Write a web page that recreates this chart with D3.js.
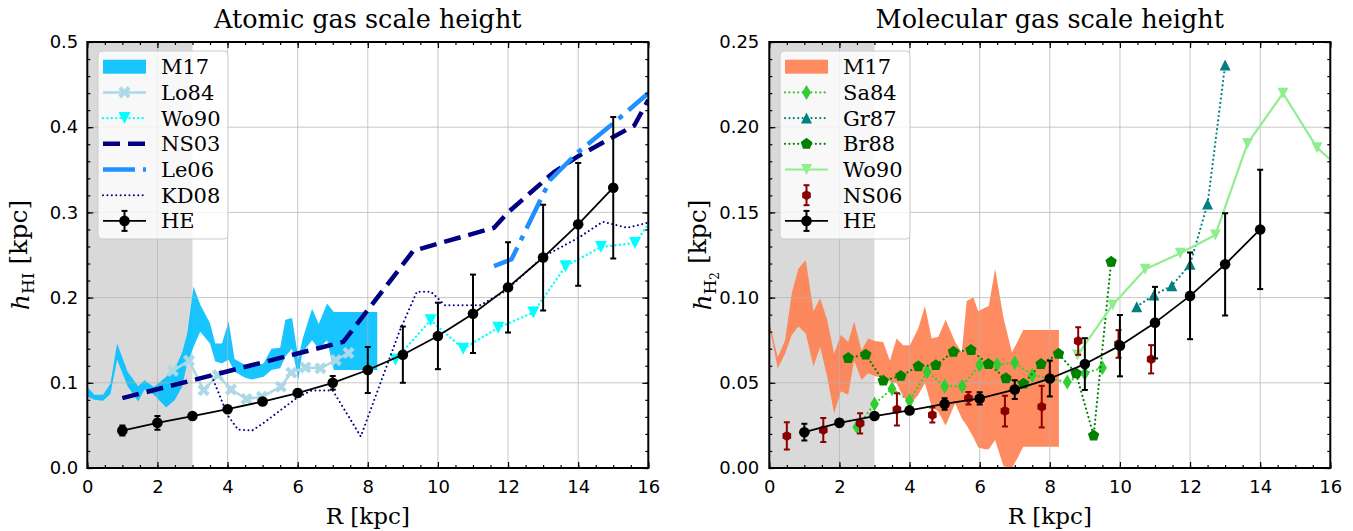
<!DOCTYPE html>
<html lang="en">
<head>
<meta charset="UTF-8">
<title>gas scale height</title>
<script src="https://cdn.jsdelivr.net/npm/d3@7"></script>
<style>
  body { margin: 0; background: #fff; }
  svg text { font-family: "DejaVu Serif", serif; fill: #000; }
  .tick text { font-family: "DejaVu Sans", sans-serif; font-size: 18px; }
</style>
</head>
<body>
<svg id="chart" width="1353" height="531"></svg>
<script>
// ---------- atomic gas (left) ----------
var rHE_HI = [1, 2, 3, 4, 5, 6, 7, 8, 9, 10, 11, 12, 13, 14, 15];
var hHE_HI = [0.044, 0.053, 0.061, 0.069, 0.078, 0.088, 0.100, 0.115, 0.133, 0.155, 0.181, 0.212, 0.247, 0.286, 0.329];
var eHE_HI = [0.006, 0.008, 0.003, 0.003, 0.003, 0.004, 0.008, 0.027, 0.033, 0.039, 0.046, 0.053, 0.062, 0.072, 0.083];

var rLo84 = [2.44, 2.9, 3.32, 3.72, 4.1, 4.54, 4.98, 5.52, 5.82, 6.22, 6.65, 7.09, 7.45];
var hLo84 = [0.114, 0.126, 0.0914, 0.109, 0.0922, 0.081, 0.0836, 0.0954, 0.112, 0.118, 0.117, 0.1266, 0.135];

var rWo90_HI = [8.79, 9.79, 10.72, 11.72, 12.72, 13.64, 14.65, 15.62, 16.6];
var hWo90_HI = [0.127, 0.1735, 0.140, 0.1645, 0.1825, 0.2368, 0.2594, 0.264, 0.32];

var rNS03 = [1.0, 7.3, 9.3, 11.6, 12.0, 13.3, 14.0, 15.6, 16.0];
var hNS03 = [0.082, 0.148, 0.255, 0.282, 0.300, 0.347, 0.366, 0.402, 0.432];

var rLe06 = [11.6, 12.1, 13.2, 14.0, 14.9, 16.0];
var hLe06 = [0.237, 0.245, 0.338, 0.371, 0.401, 0.44];

var rKD08 = [3.55, 4.0, 4.3, 4.7, 5.0, 6.0, 6.4, 7.0, 7.8, 8.9, 9.4, 9.8, 10.2, 11.2, 11.9, 13.0, 14.0, 14.7, 15.4, 16.0];
var hKD08 = [0.108, 0.062, 0.045, 0.044, 0.052, 0.083, 0.091, 0.091, 0.037, 0.160, 0.207, 0.207, 0.191, 0.191, 0.207, 0.248, 0.270, 0.289, 0.282, 0.288];

var rM17_HI  = [0, 0.2, 0.45, 0.66, 0.85, 1.15, 1.45, 1.63, 1.9, 2.25, 2.5, 2.7, 2.85, 3.03, 3.22, 3.5, 3.65, 3.84, 4.03, 4.2, 4.5, 4.7, 5.03, 5.25, 5.5, 5.65, 5.84, 6.02, 6.13, 6.41, 6.6, 6.84, 7.03, 8.27];
var hiM17_HI = [0.095, 0.086, 0.086, 0.099, 0.146, 0.113, 0.096, 0.103, 0.095, 0.107, 0.117, 0.135, 0.158, 0.213, 0.192, 0.170, 0.146, 0.146, 0.172, 0.128, 0.121, 0.118, 0.123, 0.140, 0.141, 0.174, 0.176, 0.128, 0.150, 0.187, 0.169, 0.193, 0.183, 0.183];
var loM17_HI = [0.084, 0.080, 0.079, 0.087, 0.127, 0.096, 0.078, 0.092, 0.086, 0.071, 0.080, 0.095, 0.123, 0.142, 0.160, 0.146, 0.125, 0.123, 0.127, 0.113, 0.106, 0.104, 0.107, 0.115, 0.117, 0.131, 0.140, 0.104, 0.135, 0.150, 0.140, 0.150, 0.115, 0.115];

// ---------- molecular gas (right) ----------
var rHE_H2 = [1, 2, 3, 4, 5, 6, 7, 8, 9, 10, 11, 12, 13, 14];
var hHE_H2 = [0.021, 0.0265, 0.0305, 0.0338, 0.0376, 0.0408, 0.046, 0.0525, 0.061, 0.0718, 0.0853, 0.101, 0.1195, 0.140];
var eHE_H2 = [0.0049, 0.002, 0.0015, 0.0015, 0.0034, 0.0036, 0.0055, 0.0105, 0.0152, 0.018, 0.021, 0.0254, 0.030, 0.035];

var rSa84 = [2.5, 3, 3.5, 4, 4.5, 5, 5.5, 6, 6.5, 7, 7.5, 8.5, 9, 9.5];
var hSa84 = [0.024, 0.0376, 0.0465, 0.0395, 0.0565, 0.048, 0.048, 0.0604, 0.0607, 0.0618, 0.0545, 0.0505, 0.0556, 0.0588];

var rGr87 = [10.48, 10.97, 11.48, 12.0, 12.5, 13.0];
var hGr87 = [0.0947, 0.1015, 0.107, 0.1195, 0.155, 0.2365];

var rBr88 = [2.25, 2.75, 3.25, 3.75, 4.25, 4.75, 5.25, 5.75, 6.25, 6.75, 7.25, 7.75, 8.25, 8.75, 9.25, 9.75];
var hBr88 = [0.0645, 0.0665, 0.0512, 0.054, 0.0597, 0.0603, 0.0682, 0.0692, 0.061, 0.0526, 0.0495, 0.061, 0.067, 0.0555, 0.019, 0.121];

var rWo90_H2 = [8.79, 9.79, 10.72, 11.72, 12.72, 13.64, 14.65, 15.62, 16.6];
var hWo90_H2 = [0.0663, 0.0957, 0.1166, 0.126, 0.1367, 0.1905, 0.2199, 0.188, 0.170];

var rNS06 = [0.5, 1.54, 2.59, 3.64, 4.65, 5.68, 6.72, 7.77, 8.81, 9.96, 10.89];
var hNS06 = [0.0188, 0.0223, 0.0262, 0.0344, 0.0311, 0.0409, 0.0334, 0.036, 0.0745, 0.0728, 0.0638];
var eNS06 = [0.008, 0.0071, 0.0059, 0.0095, 0.0044, 0.0037, 0.009, 0.0122, 0.0081, 0.0081, 0.0083];

var rM17_H2  = [0, 0.24, 0.45, 0.64, 0.83, 1.04, 1.26, 1.45, 1.65, 1.85, 2.04, 2.25, 2.42, 2.63, 2.82, 3.01, 3.25, 3.44, 3.63, 3.82, 4.01, 4.25, 4.44, 4.63, 4.82, 5.03, 5.30, 5.49, 5.63, 5.82, 5.96, 6.15, 6.26, 6.44, 6.68, 6.92, 7.10, 7.24, 8.26];
var hiM17_H2 = [0.086, 0.065, 0.075, 0.1025, 0.117, 0.122, 0.092, 0.0996, 0.087, 0.067, 0.078, 0.074, 0.086, 0.069, 0.076, 0.0745, 0.074, 0.063, 0.076, 0.072, 0.072, 0.082, 0.095, 0.076, 0.077, 0.087, 0.074, 0.068, 0.098, 0.100, 0.092, 0.094, 0.095, 0.117, 0.088, 0.068, 0.075, 0.081, 0.081];
var loM17_H2 = [0.083, 0.0585, 0.067, 0.078, 0.083, 0.079, 0.0595, 0.071, 0.0536, 0.032, 0.045, 0.043, 0.063, 0.0516, 0.0556, 0.054, 0.0526, 0.0507, 0.0497, 0.042, 0.037, 0.043, 0.0497, 0.036, 0.033, 0.025, 0.038, 0.029, 0.025, 0.018, 0.012, 0.011, 0.011, 0.0164, 0.001, 0.0, 0.0066, 0.0125, 0.0125];

var svg = d3.select("#chart");
var DOT = "0.01,4.4";

// marker shapes, centred on 0,0
function markerPath(t, s) {
  var i, pts = [];
  if (t == "o") return d3.symbol(d3.symbolCircle, Math.PI * s * s)();
  if (t == "^") return "M0," + (-s) + "L" + s + "," + s + "L" + (-s) + "," + s + "Z";
  if (t == "v") return "M0," + s + "L" + s + "," + (-s) + "L" + (-s) + "," + (-s) + "Z";
  if (t == "d") return "M0," + (-s) + "L" + (s * 0.6) + ",0L0," + s + "L" + (-s * 0.6) + ",0Z";
  if (t == "p" || t == "h") {
    var n = t == "p" ? 5 : 6;
    for (i = 0; i < n; i++) {
      var a = -Math.PI / 2 + i * 2 * Math.PI / n;
      pts.push([s * Math.cos(a), s * Math.sin(a)]);
    }
    return "M" + pts.join("L") + "Z";
  }
  if (t == "X") {
    var a2 = s * 0.32;
    var plus = [[a2, s], [a2, a2], [s, a2], [s, -a2], [a2, -a2], [a2, -s], [-a2, -s], [-a2, -a2], [-s, -a2], [-s, a2], [-a2, a2], [-a2, s]];
    var c = Math.SQRT1_2;
    pts = plus.map(function(p) { return [(p[0] - p[1]) * c, (p[0] + p[1]) * c]; });
    return "M" + pts.join("L") + "Z";
  }
}

function errBar(g, cx, y1, y2, color, lw, cap) {
  g.append("line").attr("x1", cx).attr("x2", cx).attr("y1", y1).attr("y2", y2)
    .attr("stroke", color).attr("stroke-width", lw);
  [y1, y2].forEach(function(yy) {
    g.append("line").attr("x1", cx - cap).attr("x2", cx + cap).attr("y1", yy).attr("y2", yy)
      .attr("stroke", color).attr("stroke-width", lw);
  });
}

function styleLine(sel, s) {
  sel.attr("stroke", s.color).attr("stroke-width", s.lw)
    .attr("stroke-dasharray", s.dash || null)
    .attr("stroke-linecap", s.dash == DOT ? "round" : "butt");
}

function drawPanel(p) {
  var g = svg.append("g").attr("transform", "translate(" + p.x0 + "," + p.y0 + ")");
  var x = d3.scaleLinear().domain([0, 16]).range([0, p.w]);
  var y = d3.scaleLinear().domain([0, p.ymax]).range([p.h, 0]);

  g.append("clipPath").attr("id", "clip" + p.id)
    .append("rect").attr("width", p.w).attr("height", p.h);
  var plot = g.append("g").attr("clip-path", "url(#clip" + p.id + ")");

  // inner region
  plot.append("rect").attr("x", x(0)).attr("width", x(3) - x(0)).attr("height", p.h)
    .attr("fill", "#808080").attr("fill-opacity", 0.3);

  // M17 band
  var area = d3.area().x(function(d) { return x(d[0]); })
    .y0(function(d) { return y(d[1]); }).y1(function(d) { return y(d[2]); });
  plot.append("path").datum(d3.zip(p.band.r, p.band.lo, p.band.hi))
    .attr("d", area).attr("fill", p.band.color).attr("fill-opacity", 0.9);

  // grid
  var xt = d3.range(0, 17, 2), yt = p.yticks;
  plot.selectAll(".gx").data(xt).join("line")
    .attr("x1", x).attr("x2", x).attr("y1", 0).attr("y2", p.h)
    .attr("stroke", "#b0b0b0").attr("stroke-opacity", 0.7).attr("stroke-width", 1);
  plot.selectAll(".gy").data(yt).join("line")
    .attr("y1", y).attr("y2", y).attr("x1", 0).attr("x2", p.w)
    .attr("stroke", "#b0b0b0").attr("stroke-opacity", 0.7).attr("stroke-width", 1);

  var line = d3.line().x(function(d) { return x(d[0]); }).y(function(d) { return y(d[1]); });

  p.series.forEach(function(s) {
    var pts = d3.zip(s.r, s.h);
    if (s.lw) {
      styleLine(plot.append("path").datum(pts).attr("d", line).attr("fill", "none")
        .attr("stroke-linejoin", "round"), s);
    }
    if (s.err) {
      pts.forEach(function(d, i) {
        errBar(plot, x(d[0]), y(d[1] - s.err[i]), y(d[1] + s.err[i]), s.color, s.elw, s.cap);
      });
    }
    if (s.marker) {
      plot.selectAll(null).data(pts).join("path")
        .attr("d", markerPath(s.marker, s.ms))
        .attr("transform", function(d) { return "translate(" + x(d[0]) + "," + y(d[1]) + ")"; })
        .attr("fill", s.color);
    }
  });

  // axes, ticks pointing inwards on all sides
  var minorX = d3.range(0, 16.01, 0.5), minorY = p.minor;
  function tickAxis(axis, tr, vals, size, fmt) {
    var a = g.append("g").attr("transform", tr)
      .call(axis.tickValues(vals).tickSizeInner(-size).tickSizeOuter(0).tickPadding(fmt ? p.pad : 0)
        .tickFormat(fmt || ""));
    a.select(".domain").remove();
    a.selectAll(".tick line").attr("stroke", "#000").attr("stroke-width", 1.2);
    return a;
  }
  tickAxis(d3.axisBottom(x), "translate(0," + p.h + ")", xt, 6, d3.format("d")).selectAll("text").attr("dy", "0.71em").attr("y", 12);
  tickAxis(d3.axisBottom(x), "translate(0," + p.h + ")", minorX, 3);
  tickAxis(d3.axisTop(x), "translate(0,0)", xt, 6);
  tickAxis(d3.axisTop(x), "translate(0,0)", minorX, 3);
  tickAxis(d3.axisLeft(y), "translate(0,0)", yt, 6, p.yfmt);
  tickAxis(d3.axisLeft(y), "translate(0,0)", minorY, 3);
  tickAxis(d3.axisRight(y), "translate(" + p.w + ",0)", yt, 6);
  tickAxis(d3.axisRight(y), "translate(" + p.w + ",0)", minorY, 3);

  g.append("rect").attr("width", p.w).attr("height", p.h)
    .attr("fill", "none").attr("stroke", "#000").attr("stroke-width", 2);

  // title and labels
  g.append("text").attr("x", p.w / 2).attr("y", -14).attr("text-anchor", "middle")
    .style("font-size", "25.5px").text(p.title);
  g.append("text").attr("x", p.w / 2).attr("y", p.h + 56).attr("text-anchor", "middle")
    .style("font-size", "23px").text("R [kpc]");
  var yl = g.append("text").attr("text-anchor", "middle").style("font-size", "25px")
    .attr("transform", "translate(" + (-58) + "," + (p.h / 2) + ") rotate(-90)");
  yl.append("tspan").style("font-style", "italic").text("h");
  p.ysub(yl);

  // legend
  var lg = g.append("g").attr("transform", "translate(10.7,9)");
  lg.append("rect").attr("width", 130).attr("height", 188).attr("rx", 4)
    .attr("fill", "#fff").attr("fill-opacity", 0.8).attr("stroke", "#cccccc");
  p.legend.forEach(function(e, i) {
    var cy = 15.7 + i * 25.7, hx = 5, hw = 43, row = lg.append("g");
    if (e.type == "patch") {
      row.append("rect").attr("x", hx).attr("y", cy - 7).attr("width", hw).attr("height", 14)
        .attr("fill", e.s.color).attr("fill-opacity", 0.9);
    } else {
      var s = e.s;
      if (s.lw) {
        styleLine(row.append("line").attr("x1", hx).attr("x2", hx + hw).attr("y1", cy).attr("y2", cy), s);
      }
      if (s.err) errBar(row, hx + hw / 2, cy - 10, cy + 10, s.color, s.elw, s.cap);
      if (s.marker) {
        row.append("path").attr("d", markerPath(s.marker, s.ms))
          .attr("transform", "translate(" + (hx + hw / 2) + "," + cy + ")").attr("fill", s.color);
      }
    }
    row.append("text").attr("x", 63).attr("y", cy).attr("dy", "0.36em")
      .style("font-size", "21px").text(e.label);
  });
}

// ---------- left panel ----------
var sHE_HI = { r: rHE_HI, h: hHE_HI, err: eHE_HI, color: "#000", lw: 1.8, elw: 2, cap: 3, marker: "o", ms: 5.3 };
var sLo84 = { r: rLo84, h: hLo84, color: "#add8e6", lw: 2.5, marker: "X", ms: 6.5 };
var sWo90a = { r: rWo90_HI, h: hWo90_HI, color: "#00ffff", lw: 2.4, dash: DOT, marker: "v", ms: 6 };
var sNS03 = { r: rNS03, h: hNS03, color: "#000080", lw: 4.5, dash: "17,8" };
var sLe06 = { r: rLe06, h: hLe06, color: "#1e90ff", lw: 4.5, dash: "32,8,5,8" };
var sKD08 = { r: rKD08, h: hKD08, color: "#000080", lw: 2, dash: DOT };
var bandHI = { r: rM17_HI, lo: loM17_HI, hi: hiM17_HI, color: "#00bfff" };

drawPanel({
  id: "L", x0: 87.3, y0: 42, w: 561, h: 426, ymax: 0.5, pad: 9,
  yticks: [0, 0.1, 0.2, 0.3, 0.4, 0.5], minor: d3.range(0, 0.501, 0.02),
  yfmt: d3.format(".1f"), title: "Atomic gas scale height",
  band: bandHI,
  series: [sLo84, sWo90a, sNS03, sLe06, sKD08, sHE_HI],
  ysub: function(t) {
    t.append("tspan").attr("dy", "0.3em").style("font-size", "17px").text("HI");
    t.append("tspan").attr("dy", "-0.3em").text(" [kpc]");
  },
  legend: [
    { label: "M17", type: "patch", s: bandHI },
    { label: "Lo84", s: sLo84 },
    { label: "Wo90", s: sWo90a },
    { label: "NS03", s: sNS03 },
    { label: "Le06", s: sLe06 },
    { label: "KD08", s: sKD08 },
    { label: "HE", s: sHE_HI }
  ]
});

// ---------- right panel ----------
var sHE_H2 = { r: rHE_H2, h: hHE_H2, err: eHE_H2, color: "#000", lw: 1.8, elw: 2, cap: 3, marker: "o", ms: 5.3 };
var sSa84 = { r: rSa84, h: hSa84, color: "#32cd32", lw: 2.2, dash: DOT, marker: "d", ms: 7.5 };
var sGr87 = { r: rGr87, h: hGr87, color: "#008080", lw: 2.2, dash: DOT, marker: "^", ms: 5.5 };
var sBr88 = { r: rBr88, h: hBr88, color: "#008000", lw: 2.2, dash: DOT, marker: "p", ms: 6 };
var sWo90m = { r: rWo90_H2, h: hWo90_H2, color: "#90ee90", lw: 2.2, marker: "v", ms: 5.5 };
var sNS06 = { r: rNS06, h: hNS06, err: eNS06, color: "#8b0000", elw: 2, cap: 3, marker: "h", ms: 5 };
var bandH2 = { r: rM17_H2, lo: loM17_H2, hi: hiM17_H2, color: "#ff7f50" };

drawPanel({
  id: "R", x0: 769.3, y0: 42, w: 561, h: 426, ymax: 0.25, pad: 10,
  yticks: [0, 0.05, 0.1, 0.15, 0.2, 0.25], minor: d3.range(0, 0.2501, 0.01),
  yfmt: d3.format(".2f"), title: "Molecular gas scale height",
  band: bandH2,
  series: [sSa84, sGr87, sBr88, sWo90m, sNS06, sHE_H2],
  ysub: function(t) {
    t.append("tspan").attr("dy", "0.3em").style("font-size", "17px").text("H");
    t.append("tspan").attr("dy", "0.25em").style("font-size", "12px").text("2");
    t.append("tspan").attr("dy", "-0.55em").text(" [kpc]");
  },
  legend: [
    { label: "M17", type: "patch", s: bandH2 },
    { label: "Sa84", s: sSa84 },
    { label: "Gr87", s: sGr87 },
    { label: "Br88", s: sBr88 },
    { label: "Wo90", s: sWo90m },
    { label: "NS06", s: sNS06 },
    { label: "HE", s: sHE_H2 }
  ]
});
</script>
</body>
</html>
